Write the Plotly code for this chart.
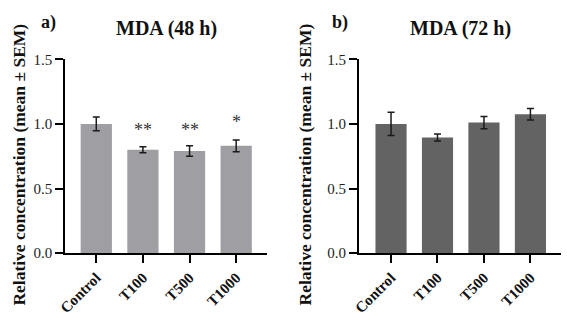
import plotly.graph_objects as go

categories = ["Control", "T100", "T500", "T1000"]
mda48 = [1.00, 0.80, 0.79, 0.83]
sem48 = [0.053, 0.023, 0.040, 0.045]
sig48 = ["", "**", "**", "*"]
sig48_y = [None, 0.955, 0.955, 1.017]
mda72 = [1.00, 0.895, 1.01, 1.075]
sem72 = [0.09, 0.027, 0.047, 0.045]
yticks = [0.0, 0.5, 1.0, 1.5]
ytick_text = ["0.0", "0.5", "1.0", "1.5"]

FONT = "Liberation Serif"
W, H = 567, 320

fig = go.Figure()
fig.add_trace(go.Bar(x=categories, y=mda48, width=0.67, marker=dict(color="#9f9fa3", line=dict(width=0)),
                     error_y=dict(type="data", array=sem48, color="#1a1a1a", thickness=1.5, width=3.5),
                     xaxis="x", yaxis="y", showlegend=False))
fig.add_trace(go.Bar(x=categories, y=mda72, width=0.67, marker=dict(color="#636363", line=dict(width=0)),
                     error_y=dict(type="data", array=sem72, color="#1a1a1a", thickness=1.5, width=3.5),
                     xaxis="x2", yaxis="y2", showlegend=False))

yax = dict(range=[0, 1.5], tickvals=yticks, ticktext=ytick_text, showgrid=False, zeroline=False,
           showline=True, linecolor="black", linewidth=2, ticks="outside", ticklen=8, tickwidth=2,
           tickcolor="black", tickfont=dict(family=FONT, size=15, color="#222"))
xax = dict(type="category", showgrid=False, zeroline=False, showline=True, linecolor="black", linewidth=2,
           ticks="outside", ticklen=8, tickwidth=2, tickcolor="black", tickangle=-45,
           tickfont=dict(family=FONT, size=15, color="#111", weight="bold"))

fig.update_layout(
    width=W, height=H, margin=dict(l=0, r=0, t=0, b=0), paper_bgcolor="white", plot_bgcolor="white",
    xaxis=dict(xax, domain=[58 / W, 263 / W], range=[-0.667, 3.667], anchor="y"),
    yaxis=dict(yax, domain=[1 - 258 / H, 1 - 54 / H], anchor="x"),
    xaxis2=dict(xax, domain=[356 / W, 561 / W], range=[-0.69, 3.66], anchor="y2"),
    yaxis2=dict(yax, domain=[1 - 258 / H, 1 - 54 / H], anchor="x2"),
)


def pa(x, y, text, size, angle=0):
    return dict(x=x / W, y=1 - y / H, xref="paper", yref="paper", text=text, textangle=angle,
                showarrow=False, xanchor="center", yanchor="middle",
                font=dict(family=FONT, size=size, color="#111"))


ann = []
for c, s, y in zip(categories, sig48, sig48_y):
    if s:
        ann.append(dict(x=c, y=y, xref="x", yref="y", text=s, showarrow=False,
                        xanchor="center", yanchor="middle",
                        font=dict(family=FONT, size=18, color="#333")))
ytitle = "<b>Relative concentration (mean ± SEM)</b>"
ann += [
    pa(11, 165, ytitle, 17.5, -90),
    pa(301, 165, ytitle, 17.5, -90),
    pa(161, 22, "<b>MDA (48 h)</b>", 20),
    pa(459, 22, "<b>MDA (72 h)</b>", 20),
    pa(41, 15, "<b>a)</b>", 18),
    pa(337, 15, "<b>b)</b>", 18),
]
fig.update_layout(annotations=ann)
fig.write_html("out.html")
